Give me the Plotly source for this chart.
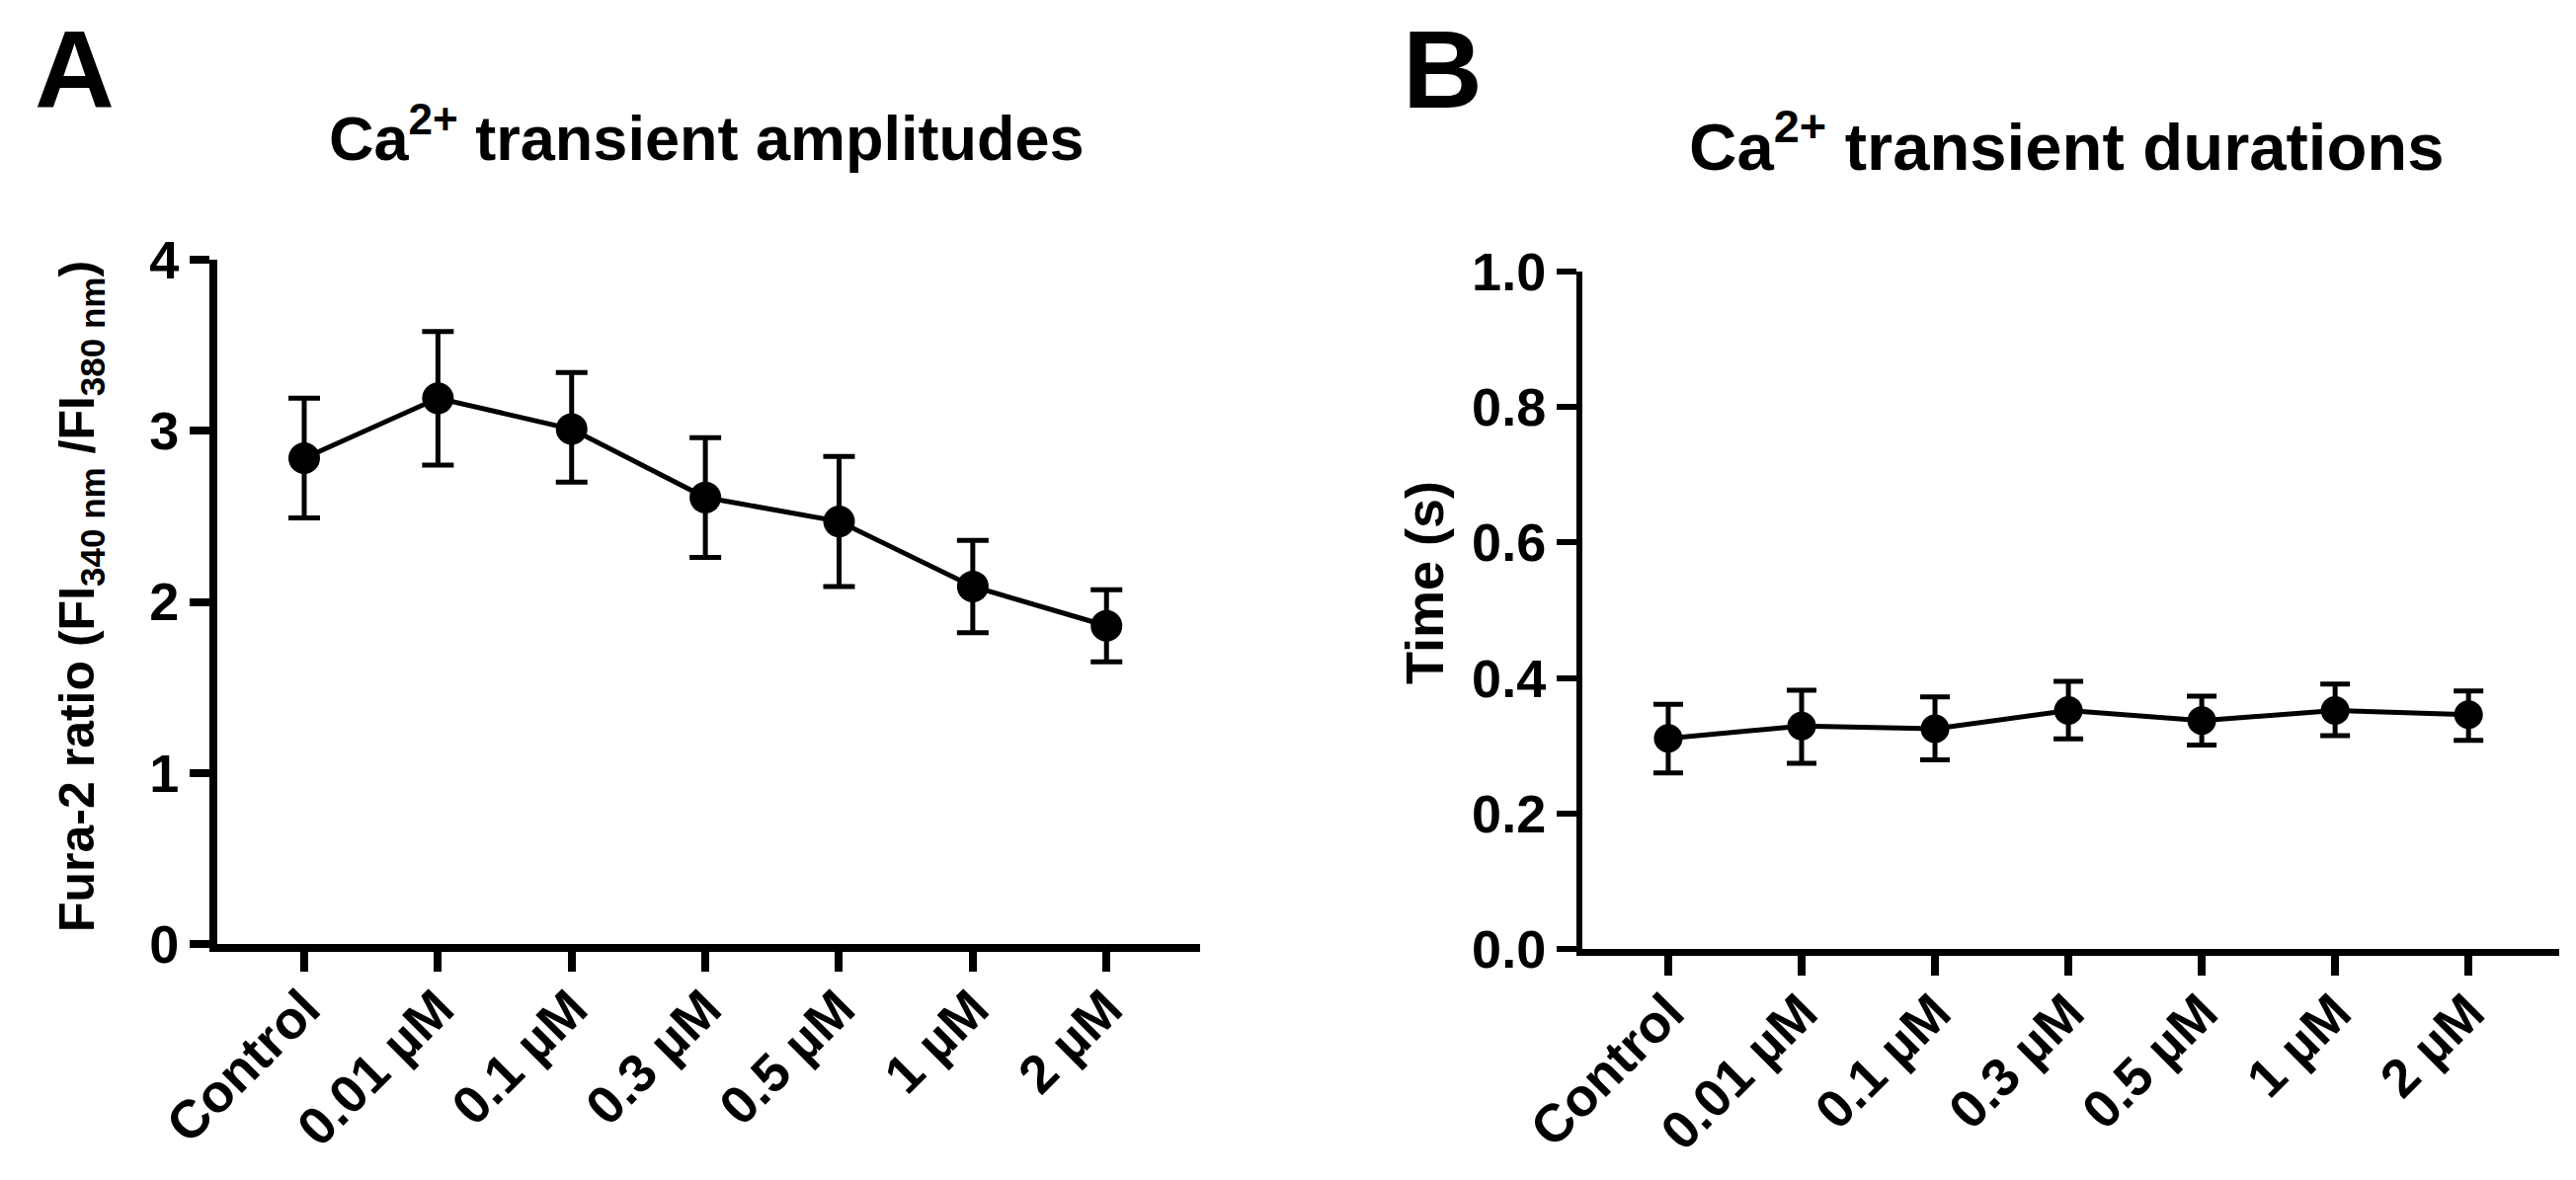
import plotly.graph_objects as go

# values
groups = ["Control", "0.01 µM", "0.1 µM", "0.3 µM", "0.5 µM", "1 µM", "2 µM"]

amp_mean = [2.84, 3.19, 3.01, 2.61, 2.47, 2.09, 1.86]
amp_upper = [3.19, 3.58, 3.34, 2.96, 2.85, 2.36, 2.07]
amp_lower = [2.49, 2.80, 2.70, 2.26, 2.09, 1.82, 1.65]

dur_mean = [0.311, 0.329, 0.325, 0.352, 0.337, 0.352, 0.346]
dur_upper = [0.361, 0.382, 0.372, 0.395, 0.373, 0.391, 0.381]
dur_lower = [0.260, 0.274, 0.279, 0.310, 0.301, 0.315, 0.308]

amp_ticks = [0, 1, 2, 3, 4]
dur_ticks = [0.0, 0.2, 0.4, 0.6, 0.8, 1.0]
dur_ticktext = ["0.0", "0.2", "0.4", "0.6", "0.8", "1.0"]

W, H = 2608, 1195
FONT = "Liberation Sans, Arial, sans-serif"


def px_x(p):
    return p / W


def px_y(p):
    return 1 - p / H


def plus(up, mean):
    return [u - m for u, m in zip(up, mean)]


def minus(mean, lo):
    return [m - l for m, l in zip(mean, lo)]


fig = go.Figure()

fig.add_trace(go.Scatter(
    x=groups, y=amp_mean, mode="lines+markers",
    line=dict(color="black", width=5),
    marker=dict(color="black", size=32),
    error_y=dict(type="data", symmetric=False,
                 array=plus(amp_upper, amp_mean),
                 arrayminus=minus(amp_mean, amp_lower),
                 color="black", thickness=5, width=16),
    cliponaxis=False, showlegend=False,
    xaxis="x", yaxis="y"))

fig.add_trace(go.Scatter(
    x=groups, y=dur_mean, mode="lines+markers",
    line=dict(color="black", width=5),
    marker=dict(color="black", size=29),
    error_y=dict(type="data", symmetric=False,
                 array=plus(dur_upper, dur_mean),
                 arrayminus=minus(dur_mean, dur_lower),
                 color="black", thickness=5, width=15),
    cliponaxis=False, showlegend=False,
    xaxis="x2", yaxis="y2"))

tick_font = dict(family=FONT, size=54, color="black", weight="bold")

xcommon = dict(type="category", showline=True, linecolor="black",
               ticks="outside", ticklen=20, tickcolor="black",
               tickangle=-45, tickfont=tick_font, ticklabelstandoff=-16,
               showgrid=False, zeroline=False, fixedrange=True,
               automargin=False)
ycommon = dict(showline=True, linecolor="black", ticks="outside",
               ticklen=20, tickcolor="black", tickfont=tick_font,
               showgrid=False, zeroline=False, fixedrange=True,
               automargin=False)

fig.update_layout(
    template="none",
    width=W, height=H,
    margin=dict(l=0, r=0, t=0, b=0, pad=0),
    paper_bgcolor="white", plot_bgcolor="white",
    font=dict(family=FONT, color="black", weight="bold"),
    xaxis=dict(xcommon, domain=[px_x(212), px_x(1207)], range=[-0.65, 6.70],
               linewidth=8, tickwidth=8, anchor="y"),
    yaxis=dict(ycommon, domain=[px_y(948), px_y(255)], range=[0, 4],
               tickvals=amp_ticks, linewidth=8, tickwidth=8, anchor="x"),
    xaxis2=dict(xcommon, domain=[px_x(1594), px_x(2583)], range=[-0.644, 6.68],
                linewidth=7, tickwidth=8, anchor="y2"),
    yaxis2=dict(ycommon, domain=[px_y(953), px_y(267)], range=[0, 1],
                tickvals=dur_ticks, ticktext=dur_ticktext,
                linewidth=6, tickwidth=6, anchor="x2"),
)

annotations = [
    # panel letters
    dict(text="A", x=px_x(67), y=px_y(63), font=dict(size=112)),
    dict(text="B", x=px_x(1452), y=px_y(63), font=dict(size=112)),
    # panel titles
    dict(text="Ca<sup>2+</sup> transient amplitudes", x=px_x(707), y=px_y(127),
         font=dict(size=63)),
    dict(text="Ca<sup>2+</sup> transient durations", x=px_x(2084), y=px_y(136),
         font=dict(size=67)),
    # y axis titles
    dict(text="Fura-2 ratio (FI<sub>340 nm</sub> /FI<sub>380 nm</sub>)",
         x=px_x(74), y=px_y(596), textangle=-90, font=dict(size=50)),
    dict(text="Time (s)", x=px_x(1434), y=px_y(582), textangle=-90,
         font=dict(size=54)),
]
for a in annotations:
    a.update(xref="paper", yref="paper", xanchor="center", yanchor="middle",
             showarrow=False)
    a["font"].update(family=FONT, color="black", weight="bold")
fig.update_layout(annotations=annotations)

fig.write_html("out.html")
